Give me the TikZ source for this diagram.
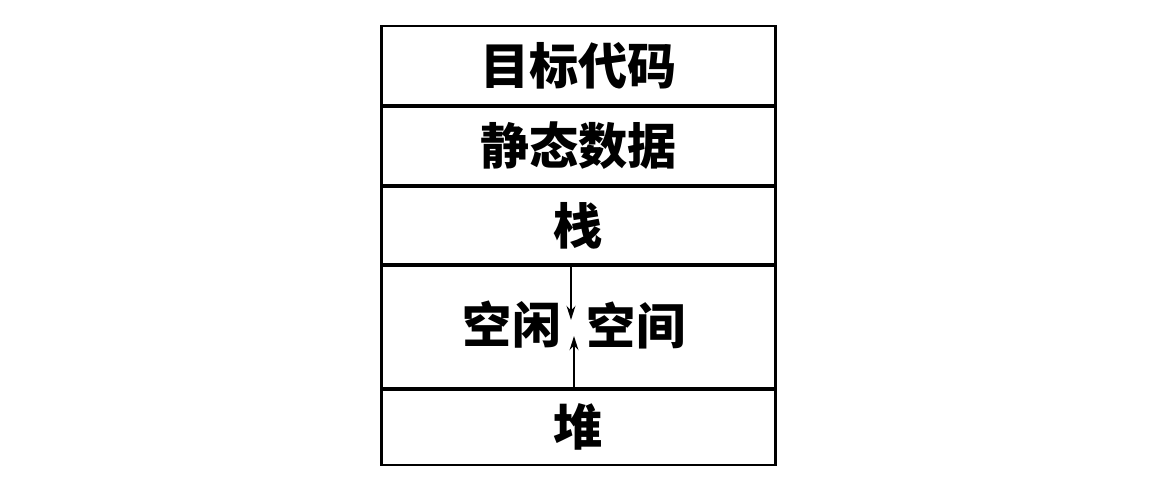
\documentclass[tikz,border=0pt]{standalone}
\usepackage{fontspec}
\usepackage{tikz}
\usetikzlibrary{arrows.meta}
\newfontfamily\cjk{Noto Sans CJK SC}

\begin{document}
\begin{tikzpicture}[
        x=0.02cm, y=-0.02cm,
        cell/.style={rectangle, draw, line width=1.7pt, minimum width=7.9cm, inner sep=0pt, font=\cjk\bfseries\fontsize{28}{30}\selectfont},
        label_text/.style={inner sep=0pt, font=\cjk\bfseries\fontsize{28}{30}\selectfont},
        grow_arrow/.style={-{Stealth[length=8pt, width=5pt]}, line width=1.2pt}
    ]
        \useasboundingbox (0,0) rectangle (1157,500);

        % Memory layout cells
        \node[cell, minimum height=1.6cm] (code) at (578.5,66) {目标代码};
        \node[cell, minimum height=1.6cm] (static) at (578.5,146) {静态数据};
        \node[cell, minimum height=1.58cm] (stack) at (578.5,225.5) {栈};
        \node[cell, minimum height=2.48cm] (free) at (578.5,327) {};
        \node[cell, minimum height=1.52cm] (heap) at (578.5,427) {堆};

        % Free space text
        \node[label_text] (free_left) at (512,325) {空闲};
        \node[label_text] (free_right) at (636,325) {空间};

        % Growth arrows
        \coordinate (stack_tip) at (571,320);
        \coordinate (heap_tip) at (574,336);
        \draw[grow_arrow] (stack.south -| stack_tip) -- (stack_tip);
        \draw[grow_arrow] (heap.north -| heap_tip) -- (heap_tip);

    \end{tikzpicture}
\end{document}
